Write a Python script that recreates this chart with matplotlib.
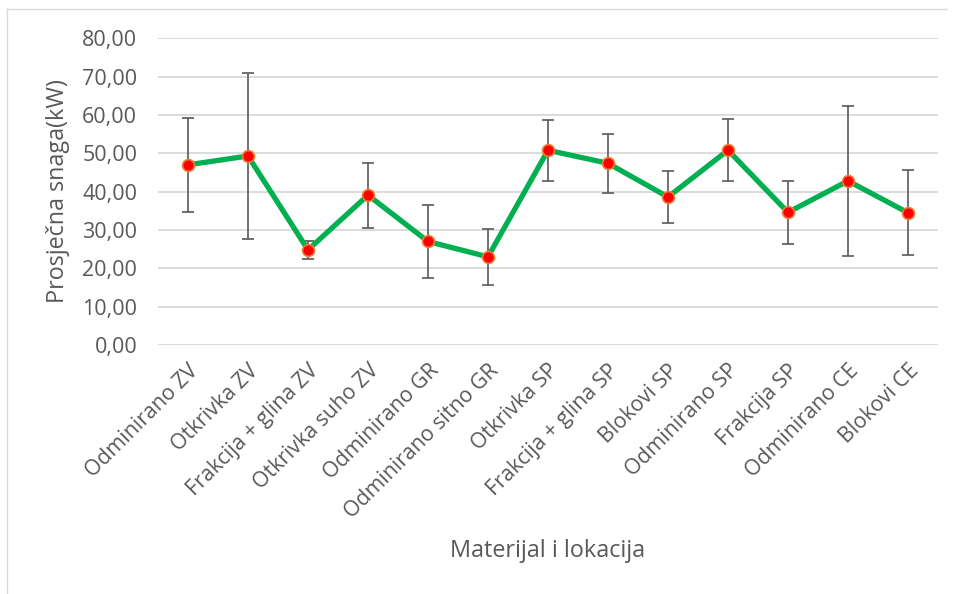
import matplotlib
matplotlib.use("Agg")
import matplotlib.pyplot as plt
from matplotlib.lines import Line2D
import numpy as np

categories = ["Odminirano ZV", "Otkrivka ZV", "Frakcija + glina ZV", "Otkrivka suho ZV",
              "Odminirano GR", "Odminirano sitno GR", "Otkrivka SP", "Frakcija + glina SP",
              "Blokovi SP", "Odminirano SP", "Frakcija SP", "Odminirano CE", "Blokovi CE"]
values = [47.0, 49.3, 24.8, 39.1, 27.0, 23.0, 50.8, 47.4, 38.6, 50.8, 34.6, 42.8, 34.5]
errors = [12.2, 21.6, 2.4, 8.5, 9.5, 7.3, 7.9, 7.7, 6.7, 8.1, 8.2, 19.6, 11.1]
yticks = [0, 10, 20, 30, 40, 50, 60, 70, 80]
ytick_labels = ["0,00", "10,00", "20,00", "30,00", "40,00", "50,00", "60,00", "70,00", "80,00"]

plt.rcParams['font.family'] = ['Open Sans', 'DejaVu Sans']
txt = '#595959'

fig = plt.figure(figsize=(9.56, 5.94), dpi=100)
ax = fig.add_axes([158/956, 1-345/594, 780/956, (345-38.3)/594])

x = np.arange(len(categories))
ax.errorbar(x, values, yerr=errors, fmt='none', ecolor='#595959', elinewidth=1.2,
            capsize=4, capthick=1.2, zorder=3)
ax.plot(x, values, color='#00B050', lw=3.8, zorder=4, solid_joinstyle='round')
ax.plot(x, values, linestyle='none', marker='o', markersize=8.5,
        markerfacecolor='#FF0000', markeredgecolor='#ED7D31', markeredgewidth=1.2, zorder=5)

ax.set_xlim(-0.5, len(categories) - 0.5)
ax.set_ylim(0, 80)
ax.set_yticks(yticks)
ax.set_yticklabels(ytick_labels, fontsize=15.5, color=txt)
ax.set_xticks(x)
ax.set_xticklabels(categories, rotation=45, ha='right', va='top', rotation_mode='anchor',
                   fontsize=15.3, color=txt)
ax.tick_params(axis='both', length=0)
ax.tick_params(axis='y', pad=15)
ax.tick_params(axis='x', pad=11)
ax.grid(axis='y', color='#D9D9D9', lw=1.3, zorder=0)
ax.set_axisbelow(True)
for s in ax.spines.values():
    s.set_visible(False)

fig.text(58/956, 1-191/594, "Prosječna snaga(kW)", rotation=90, ha='center', va='center',
         fontsize=16.8, color=txt)
fig.text(548/956, 1-551/594, "Materijal i lokacija", ha='center', va='center',
         fontsize=16.8, color=txt)

# chart border
fig.add_artist(Line2D([7/956, 947/956], [1-9/594, 1-9/594], transform=fig.transFigure,
                      color='#D9D9D9', lw=1))
fig.add_artist(Line2D([7/956, 7/956], [1-9/594, 0], transform=fig.transFigure,
                      color='#D9D9D9', lw=1))

fig.savefig("out.png", dpi=100)
